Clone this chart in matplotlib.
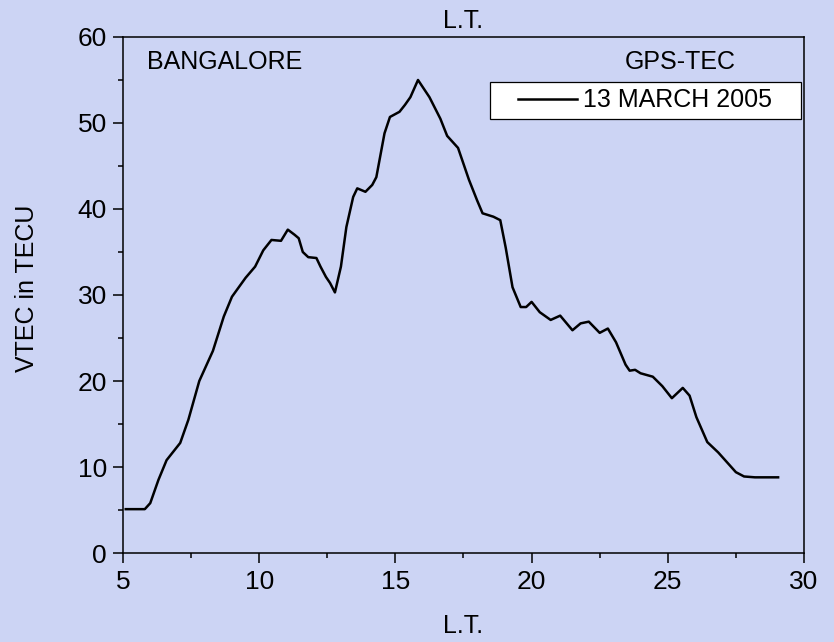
import matplotlib
matplotlib.use("Agg")
import matplotlib.pyplot as plt
from matplotlib.patches import Rectangle
from matplotlib.ticker import MultipleLocator

# local time (hours) and vertical TEC (TECU)
lt = [5.1, 5.8, 6.0, 6.3, 6.6, 7.1, 7.4, 7.8, 8.3, 8.7,
      9.0, 9.5, 9.85, 10.15, 10.45, 10.8, 11.05, 11.3, 11.45, 11.6,
      11.8, 12.1, 12.25, 12.45, 12.6, 12.78, 13.0, 13.2, 13.45, 13.6,
      13.9, 14.15, 14.3, 14.6, 14.8, 15.15, 15.35, 15.55, 15.83, 16.25,
      16.65, 16.9, 17.3, 17.7, 18.0, 18.2, 18.6, 18.85, 19.05, 19.3,
      19.6, 19.8, 20.0, 20.3, 20.7, 21.05, 21.5, 21.8, 22.1, 22.5,
      22.8, 23.1, 23.45, 23.6, 23.8, 24.0, 24.45, 24.8, 25.15, 25.55,
      25.8, 26.05, 26.45, 26.85, 27.5, 27.8, 28.2, 29.05]
vtec = [5.1, 5.1, 5.8, 8.5, 10.8, 12.8, 15.5, 20.0, 23.5, 27.5,
        29.8, 32.0, 33.3, 35.2, 36.4, 36.3, 37.6, 37.0, 36.6, 35.0,
        34.4, 34.3, 33.3, 32.1, 31.4, 30.3, 33.3, 37.9, 41.4, 42.4,
        42.0, 42.8, 43.7, 48.8, 50.7, 51.3, 52.1, 53.0, 55.0, 53.0,
        50.5, 48.5, 47.1, 43.4, 41.0, 39.5, 39.1, 38.7, 35.5, 30.9,
        28.6, 28.6, 29.2, 28.0, 27.1, 27.6, 25.9, 26.7, 26.9, 25.6,
        26.1, 24.5, 21.9, 21.2, 21.3, 20.9, 20.5, 19.4, 18.0, 19.2,
        18.3, 15.8, 12.9, 11.7, 9.4, 8.9, 8.8, 8.8]

series_label = "13 MARCH 2005"
station = "BANGALORE"
source = "GPS-TEC"

plt.rcParams["font.family"] = ["Liberation Sans", "DejaVu Sans"]
bg = "#ccd4f4"
fs = 18

fig = plt.figure(figsize=(8.34, 6.42), dpi=100, facecolor=bg)
ax = fig.add_axes([0.1475, 0.1386, 0.8165, 0.8038])
ax.set_facecolor(bg)

ax.plot(lt, vtec, color="black", lw=1.8, label=series_label)

ax.set_xlim(5, 30)
ax.set_ylim(0, 60)
ax.xaxis.set_major_locator(MultipleLocator(5))
ax.xaxis.set_minor_locator(MultipleLocator(2.5))
ax.yaxis.set_major_locator(MultipleLocator(10))
ax.yaxis.set_minor_locator(MultipleLocator(5))
ax.tick_params(which="both", direction="out", width=1.1, top=False, right=False,
               labelsize=19, colors="black")
ax.tick_params(which="major", length=7.5, pad=4)
ax.tick_params(which="minor", length=3.7)
ax.tick_params(axis="x", which="major", pad=5)
for s in ax.spines.values():
    s.set_linewidth(1.1)

ax.set_xlabel("L.T.", fontsize=fs, labelpad=14)
ax.set_ylabel("VTEC in TECU", fontsize=fs)
ax.yaxis.set_label_coords(-0.123, 0.513)
fig.text(0.555, 0.968, "L.T.", fontsize=fs, ha="center", va="center")

ax.text(0.035, 0.952, station, transform=ax.transAxes, fontsize=fs, va="center")
ax.text(0.818, 0.952, source, transform=ax.transAxes, fontsize=fs, ha="center", va="center")

ax.add_patch(Rectangle((0.539, 0.841), 0.4567, 0.0717, transform=ax.transAxes,
                       facecolor="white", edgecolor="black", lw=0.9, zorder=4))
leg = ax.legend(loc="center left", bbox_to_anchor=(0.58, 0.877), frameon=False,
                fontsize=fs, handlelength=2.35, handletextpad=0.25, borderpad=0,
                borderaxespad=0)
leg.set_zorder(5)

fig.savefig("out.png", dpi=100, facecolor=bg)
